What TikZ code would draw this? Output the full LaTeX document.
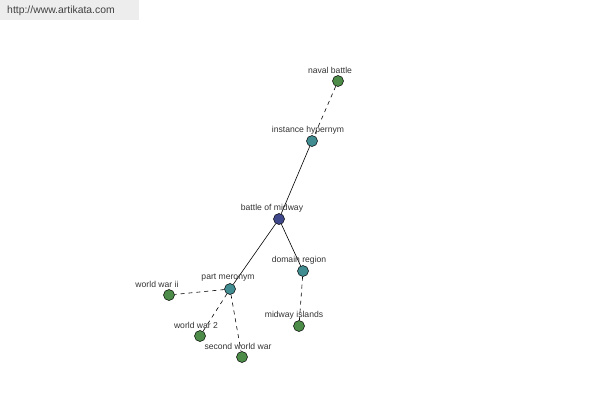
\documentclass[tikz,border=0pt]{standalone}
\usepackage{fontspec}
\setmainfont{Liberation Sans}
\begin{document}
\begin{tikzpicture}[x=1pt,y=-1pt,
  dot/.style={circle,draw=black,line width=0.5pt,minimum size=11pt,inner sep=0pt},
  leaf/.style={dot,fill={rgb,255:red,76;green,140;blue,72}},
  mid/.style={dot,fill={rgb,255:red,64;green,140;blue,144}},
  root/.style={dot,fill={rgb,255:red,64;green,72;blue,140}},
  lbl/.style={font=\fontsize{8.6}{9}\selectfont,text=black!80,inner sep=0pt},
  solidedge/.style={draw=black,line width=0.6pt},
  dashededge/.style={draw=black,line width=0.6pt,dash pattern=on 4pt off 4pt}]
\useasboundingbox (0,0) rectangle (600,400);
\fill[black!7] (0,0) rectangle (139,20);
\node[font=\fontsize{10.4}{11}\selectfont,text=black!75,inner sep=0pt] (url) at (61,11) {http://www.artikata.com};
\node[leaf] (naval) at (338,81) {};
\node[mid] (inst) at (312,141) {};
\node[root] (bom) at (279,219) {};
\node[mid] (dom) at (303,271) {};
\node[leaf] (mi) at (299,326) {};
\node[mid] (pm) at (230,289) {};
\node[leaf] (wwii) at (169,295) {};
\node[leaf] (ww2) at (200,336) {};
\node[leaf] (sww) at (242,357) {};
\draw[dashededge] (naval) -- (inst);
\draw[solidedge] (inst) -- (bom);
\draw[solidedge] (bom) -- (pm);
\draw[solidedge] (bom) -- (dom);
\draw[dashededge] (dom) -- (mi);
\draw[dashededge] (pm) -- (wwii);
\draw[dashededge] (pm) -- (ww2);
\draw[dashededge] (pm) -- (sww);
\node[lbl] (lnaval) at (330,70) {naval battle};
\node[lbl] (linst) at (308,130) {instance hypernym};
\node[lbl] (lbom) at (272,208) {battle of midway};
\node[lbl] (ldom) at (299,260) {domain region};
\node[lbl] (lmi) at (294,315) {midway islands};
\node[lbl] (lpm) at (228,278) {part meronym};
\node[lbl] (lwwii) at (157,284) {world war ii};
\node[lbl] (lww2) at (196,325) {world war 2};
\node[lbl] (lsww) at (238,346) {second world war};
\end{tikzpicture}
\end{document}
